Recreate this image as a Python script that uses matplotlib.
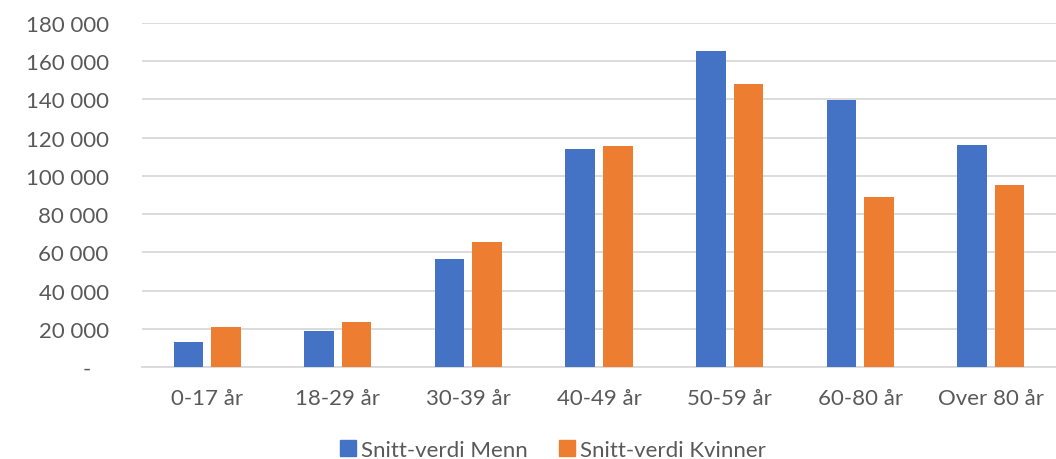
import matplotlib
matplotlib.use('AGG')

import matplotlib.pyplot as plt
import numpy as np
from matplotlib.ticker import FuncFormatter

categories = ['0-17 år', '18-29 år', '30-39 år', '40-49 år',
              '50-59 år', '60-80 år', 'Over 80 år']
menn = [13100, 18700, 56500, 114200, 165300, 139800, 116400]
kvinner = [21000, 23600, 65600, 115400, 148200, 88700, 95200]
series_names = ['Snitt-verdi Menn', 'Snitt-verdi Kvinner']

BLUE = '#4472c4'
ORANGE = '#ed7d31'
GREY_TXT = '#595959'
GRID = '#d9d9d9'

plt.rcParams['font.family'] = ['Lato', 'DejaVu Sans']


def fmt(v, pos):
    if v == 0:
        return '-   '
    return '{:,.0f}'.format(v).replace(',', ' ')


fig = plt.figure(figsize=(10.56, 4.60), dpi=100)
# plot area runs off the right edge like the original
ax = fig.add_axes([142 / 1056, 1 - 368 / 460, 914 / 1056, 344 / 460])

x = np.arange(len(categories))
w = 0.226
off = 0.1436
ax.bar(x - off, menn, w, color=BLUE, zorder=3)
ax.bar(x + off, kvinner, w, color=ORANGE, zorder=3)

ax.set_xlim(-0.5, len(categories) - 0.5)
ax.set_ylim(0, 180000)
ax.set_yticks(np.arange(0, 180001, 20000))
ax.yaxis.set_major_formatter(FuncFormatter(fmt))
ax.set_xticks(x)
ax.set_xticklabels(categories)

ax.grid(axis='y', color=GRID, linewidth=1.3, zorder=0)
for s in ['top', 'right', 'left']:
    ax.spines[s].set_visible(False)
ax.spines['bottom'].set_color(GRID)
ax.spines['bottom'].set_linewidth(1.3)
ax.tick_params(axis='both', length=0, colors=GREY_TXT, labelsize=16)
ax.tick_params(axis='y', pad=24)
ax.tick_params(axis='x', pad=15)
for lab in ax.get_xticklabels():
    lab.set_clip_on(False)

# legend along the bottom
handles = [plt.Rectangle((0, 0), 1, 1, color=BLUE),
           plt.Rectangle((0, 0), 1, 1, color=ORANGE)]
leg = fig.legend(handles, series_names, loc='center',
                 bbox_to_anchor=(553 / 1056, 1 - 451 / 460), ncol=2,
                 frameon=False, fontsize=16, handlelength=0.7,
                 handleheight=0.7, handletextpad=0.25, columnspacing=1.4,
                 borderaxespad=0)
for t in leg.get_texts():
    t.set_color(GREY_TXT)

fig.savefig('out.png', dpi=100)
